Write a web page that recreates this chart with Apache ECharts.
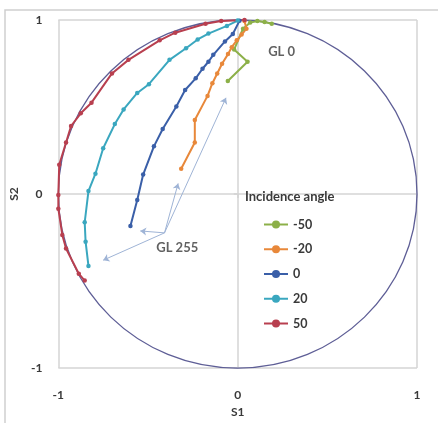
<!DOCTYPE html>
<html><head><meta charset="utf-8">
<script src="https://cdn.jsdelivr.net/npm/echarts@6/dist/echarts.min.js"></script>
<style>html,body{margin:0;padding:0;background:#fff}#c{width:438px;height:423px}</style>
</head><body><div id="c"></div>
<script>
// Stokes S1/S2 trajectories per incidence angle (GL 0 -> GL 255)
const seriesNames = ['-50', '-20', '0', '20', '50'];
const seriesColors = ['#8cb048', '#e8883a', '#3a5fa8', '#3aa7bf', '#b83f4f'];
const angleM50 = [[0.19,0.978],[0.15,0.989],[0.11,0.994],[0.07,0.985],[0.03,0.95],[-0.02,0.83],[0.055,0.76],[-0.055,0.65]];
const angleM20 = [[0.038,0.994],[0.049,0.95],[0.022,0.916],[-0.005,0.883],[-0.033,0.844],[-0.054,0.804],[-0.087,0.749],[-0.114,0.693],[-0.141,0.637],[-0.168,0.564],[-0.239,0.425],[-0.239,0.296],[-0.315,0.145]];
const angle0 = [[0.01,0.995],[-0.027,0.92],[-0.071,0.877],[-0.136,0.80],[-0.163,0.76],[-0.196,0.72],[-0.234,0.665],[-0.293,0.598],[-0.342,0.503],[-0.418,0.374],[-0.467,0.274],[-0.527,0.112],[-0.56,-0.034],[-0.598,-0.184]];
const angle20 = [[0.0,0.997],[-0.06,0.966],[-0.163,0.922],[-0.223,0.888],[-0.288,0.838],[-0.38,0.771],[-0.495,0.631],[-0.56,0.581],[-0.636,0.486],[-0.685,0.402],[-0.75,0.263],[-0.793,0.117],[-0.832,0.017],[-0.853,-0.162],[-0.848,-0.274],[-0.832,-0.413]];
const angle50 = [[0.038,1.0],[-0.092,0.994],[-0.179,0.978],[-0.348,0.927],[-0.435,0.883],[-0.609,0.771],[-0.701,0.693],[-0.815,0.525],[-0.875,0.464],[-0.929,0.391],[-0.957,0.296],[-0.995,0.168],[-1.0,-0.006],[-1.0,-0.084],[-0.978,-0.235],[-0.957,-0.313],[-0.886,-0.458],[-0.853,-0.497]];
const seriesData = [angleM50, angleM20, angle0, angle20, angle50];
// unit circle: center x, center y, radius
const unitCircle = [[0, 0, 1]];
// GL 255 callout arrows
const arrowFrom = [-0.408, -0.223];
const arrowTo = [[-0.75,-0.38],[-0.543,-0.212],[-0.332,0.061],[-0.065,0.553]];
const notes = [{name:'GL 0', value:[0.245,0.816]}, {name:'GL 255', value:[-0.337,-0.307]}];
const axisTicks = [-1, 0, 1];

const FONT = 'Lato';
const gridGray = '#d4d4d4';
const txt = '#3a3a3a';

const chart = echarts.init(document.getElementById('c'), null, {renderer:'canvas'});
const lineSeries = seriesNames.map((n, i) => ({
  name: n, type: 'line', data: seriesData[i], z: 3,
  symbol: 'circle', symbolSize: 4.5, showSymbol: true,
  itemStyle: {color: seriesColors[i]},
  lineStyle: {color: seriesColors[i], width: 2},
  emphasis: {disabled: true}
}));

chart.setOption({
  animation: false,
  backgroundColor: '#fff',
  textStyle: {fontFamily: FONT},
  graphic: [{type:'rect', shape:{x:5, y:10, width:460, height:440}, style:{fill:'none', stroke:'#cfcfcf', lineWidth:1.5}, silent:true}],
  title: {text:'Incidence angle', left:245, top:190, padding:0,
    textStyle:{fontFamily:FONT, fontSize:13, fontWeight:'bold', color:txt}},
  legend: {data: seriesNames, orient:'vertical', left:263, top:218, padding:0,
    itemWidth:24, itemHeight:10, itemGap:11.75,
    textStyle:{fontFamily:FONT, fontSize:12.5, fontWeight:'bold', color:txt}},
  grid: {left:49, right:21, top:20, bottom:45, containLabel:false},
  xAxis: {type:'value', min:axisTicks[0], max:axisTicks[2], interval:1,
    name:'S1', nameLocation:'middle', nameGap:34,
    nameTextStyle:{fontFamily:FONT, fontSize:12, fontWeight:'bold', color:txt},
    axisLine:{show:false}, axisTick:{show:true, length:4, lineStyle:{color:gridGray, width:1.5}},
    axisLabel:{margin:21, fontFamily:FONT, fontSize:12, fontWeight:'bold', color:txt},
    splitLine:{show:true, lineStyle:{color:gridGray, width:1.5}}},
  yAxis: {type:'value', min:axisTicks[0], max:axisTicks[2], interval:1,
    name:'S2', nameLocation:'middle', nameGap:25, nameRotate:90,
    nameTextStyle:{fontFamily:FONT, fontSize:12, fontWeight:'bold', color:txt},
    axisLine:{show:false}, axisTick:{show:true, length:4, lineStyle:{color:gridGray, width:1.5}},
    axisLabel:{margin:16, fontFamily:FONT, fontSize:12, fontWeight:'bold', color:txt},
    splitLine:{show:true, lineStyle:{color:gridGray, width:1.5}}},
  series: [
    {type:'custom', name:'circle', data: unitCircle, z:2, silent:true, clip:false,
      renderItem: (params, api) => {
        const c = api.coord([api.value(0), api.value(1)]);
        const s = api.size([api.value(2), api.value(2)]);
        return {type:'ellipse', shape:{cx:c[0], cy:c[1], rx:s[0], ry:s[1]},
          style:{fill:'none', stroke:'#5e5e96', lineWidth:1.3}};
      }},
    ...lineSeries,
    {type:'lines', coordinateSystem:'cartesian2d', name:'arrows', z:4, silent:true,
      data: arrowTo.map(t => ({coords:[arrowFrom, t]})),
      symbol:['none','arrow'], symbolSize:6,
      lineStyle:{color:'#9fb4d6', width:1, opacity:1}},
    {type:'scatter', name:'notes', data: notes, symbolSize:1, z:5, silent:true,
      itemStyle:{color:'transparent'},
      label:{show:true, position:'inside', formatter: p => p.name,
        fontFamily:FONT, fontSize:13, fontWeight:'bold', color:txt}}
  ]
});
</script></body></html>
